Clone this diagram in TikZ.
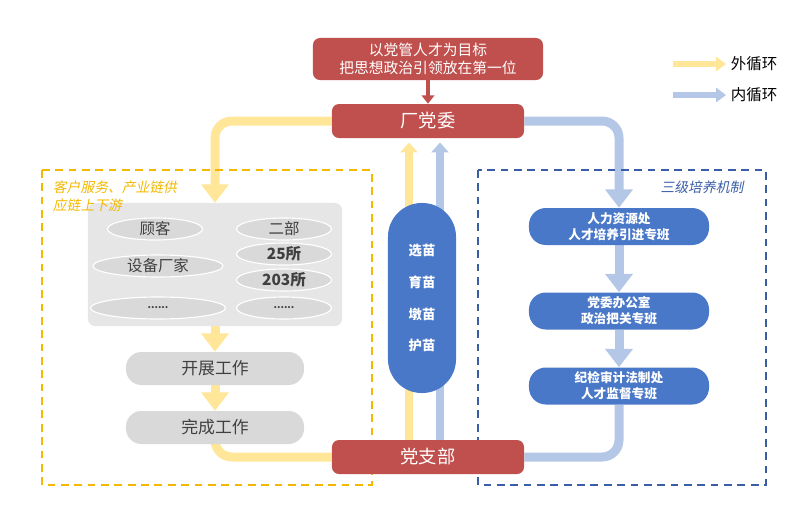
\documentclass[tikz,border=0pt]{standalone}
\usepackage{fontspec}
\setmainfont{Noto Sans CJK SC}
\newfontfamily\slantfont{Noto Sans CJK SC}[FakeSlant=0.2]
\usetikzlibrary{arrows.meta, shapes.geometric, backgrounds}
\usepackage{xcolor}
\definecolor{partyred}{HTML}{C0504D}
\definecolor{outerloop}{HTML}{FFE699}
\definecolor{innerloop}{HTML}{B4C7E7}
\definecolor{talentblue}{HTML}{4A78C8}
\definecolor{goldline}{HTML}{F5B800}
\definecolor{navyline}{HTML}{3A5DA8}
\definecolor{panelgray}{HTML}{E6E6E6}
\definecolor{pillgray}{HTML}{D9D9D9}
\definecolor{darktext}{HTML}{404040}

\tikzset{
  redbox/.style={fill=partyred, rounded corners=5pt, text=white, inner sep=0pt, align=center},
  pill/.style={ellipse, fill=pillgray, draw=white, line width=0.8pt, minimum width=2.375cm,
    minimum height=0.55cm, inner sep=0pt, text=darktext, font=\fontsize{11}{11}\selectfont},
  workbox/.style={fill=pillgray, rounded corners=11pt, minimum width=4.45cm, minimum height=0.825cm,
    inner sep=0pt, text=darktext, font=\fontsize{12}{12}\selectfont},
  classbox/.style={fill=talentblue, rounded corners=12pt, minimum width=4.5cm, minimum height=0.925cm,
    inner sep=0pt, text=white, align=center, font=\fontsize{9}{11.5}\selectfont\bfseries},
  outerflow/.style={draw=outerloop, line width=6.4pt, rounded corners=12pt},
  innerflow/.style={draw=innerloop, line width=6.4pt, rounded corners=12pt},
  bigtip/.style={-{Triangle[width=19pt, length=13pt]}},
  thintip/.style={line width=5pt, -{Triangle[width=12pt, length=7pt]}, shorten >=3pt}
}

\begin{document}
\begin{tikzpicture}[x=0.025cm, y=-0.025cm]
  \useasboundingbox (0,0) rectangle (811,528);

  \node[redbox, minimum width=5.75cm, minimum height=1.05cm, font=\fontsize{10.5}{12.8}\selectfont]
    (goal) at (428,59) {以党管人才为目标\\把思想政治引领放在第一位};
  \node[redbox, minimum width=4.8cm, minimum height=0.85cm, font=\fontsize{13}{13}\selectfont]
    (chang) at (428,121) {厂党委};
  \node[redbox, minimum width=4.8cm, minimum height=0.85cm, font=\fontsize{13}{13}\selectfont]
    (zhibu) at (428,457) {党支部};

  \node[fill=panelgray, rounded corners=5pt, minimum width=6.35cm, minimum height=3.075cm, inner sep=0pt]
    (panel) at (215,264.5) {};
  \node[pill] (guke) at (155,229) {顾客};
  \node[pill] (erbu) at (284,229) {二部};
  \node[pill, minimum width=3.25cm] (shebei) at (158,266) {设备厂家};
  \node[pill, font=\fontsize{11}{11}\selectfont\bfseries] (suo25) at (284,254) {25所};
  \node[pill, font=\fontsize{11}{11}\selectfont\bfseries] (suo203) at (284,280) {203所};
  \node[pill, minimum width=3.375cm, font=\fontsize{7}{7}\selectfont\bfseries] (moreA) at (158,308) {......};
  \node[pill, font=\fontsize{7}{7}\selectfont\bfseries] (moreB) at (284,308) {......};

  \node[workbox] (kaizhan) at (215,368.5) {开展工作};
  \node[workbox] (wancheng) at (215,427.5) {完成工作};

  \node[fill=talentblue, rounded corners=24pt, minimum width=1.7cm, minimum height=4.75cm, inner sep=0pt,
    text=white, align=center, font=\fontsize{9.5}{22.7}\selectfont\bfseries]
    (miao) at (422,298) {选苗\\育苗\\墩苗\\护苗};

  \node[classbox] (renli) at (619,226.5) {人力资源处\\人才培养引进专班};
  \node[classbox] (dangwei) at (619,311) {党委办公室\\政治把关专班};
  \node[classbox] (jijian) at (619,386) {纪检审计法制处\\人才监督专班};

  \node[anchor=west, font=\fontsize{11}{11}\selectfont] (outerkey) at (726,64) {外循环};
  \node[anchor=west, font=\fontsize{11}{11}\selectfont] (innerkey) at (726,95) {内循环};
  \coordinate (outerstart) at (673,64);
  \coordinate (innerstart) at (673,95);

  \begin{scope}[on background layer]
    \draw[outerflow, bigtip] (chang.west) -| (panel.north);
    \draw[innerflow, bigtip] (chang.east) -| (renli.north);
    \draw[outerflow, bigtip] (panel.south) -- (kaizhan.north);
    \draw[outerflow, bigtip] (kaizhan.south) -- (wancheng.north);
    \draw[outerflow] (wancheng.south) |- (zhibu.west);
    \draw[innerflow, bigtip] (renli.south) -- (dangwei.north);
    \draw[innerflow, bigtip] (dangwei.south) -- (jijian.north);
    \draw[innerflow] (jijian.south) |- (zhibu.east);
    \draw[outerloop, thintip] ([xshift=-0.475cm]zhibu.north) -- ([xshift=-0.475cm]chang.south);
    \draw[innerloop, thintip] ([xshift=0.3cm]zhibu.north) -- ([xshift=0.3cm]chang.south);
    \draw[partyred, line width=2.8pt, -{Triangle[width=9pt, length=6pt]}] (goal.south) -- (chang.north);
    \draw[outerloop, line width=4.5pt, -{Triangle[width=10pt, length=7pt]}] (outerstart) -- (outerkey.west);
    \draw[innerloop, line width=4.5pt, -{Triangle[width=10pt, length=7pt]}] (innerstart) -- (innerkey.west);

    \draw[goldline, line width=1.4pt, dash pattern=on 5.5pt off 4pt] (42,170) rectangle (372,485);
    \draw[navyline, line width=1.4pt, dash pattern=on 5.5pt off 4pt] (478,170) rectangle (766,485);
  \end{scope}

  \node[anchor=north west, text=goldline, align=left, font=\fontsize{9.8}{12.8}\slantfont]
    (chainlabel) at (48,176) {客户服务、产业链供\\应链上下游};
  \node[text=navyline, font=\fontsize{9.8}{12}\slantfont] (levellabel) at (702,187) {三级培养机制};
\end{tikzpicture}
\end{document}
